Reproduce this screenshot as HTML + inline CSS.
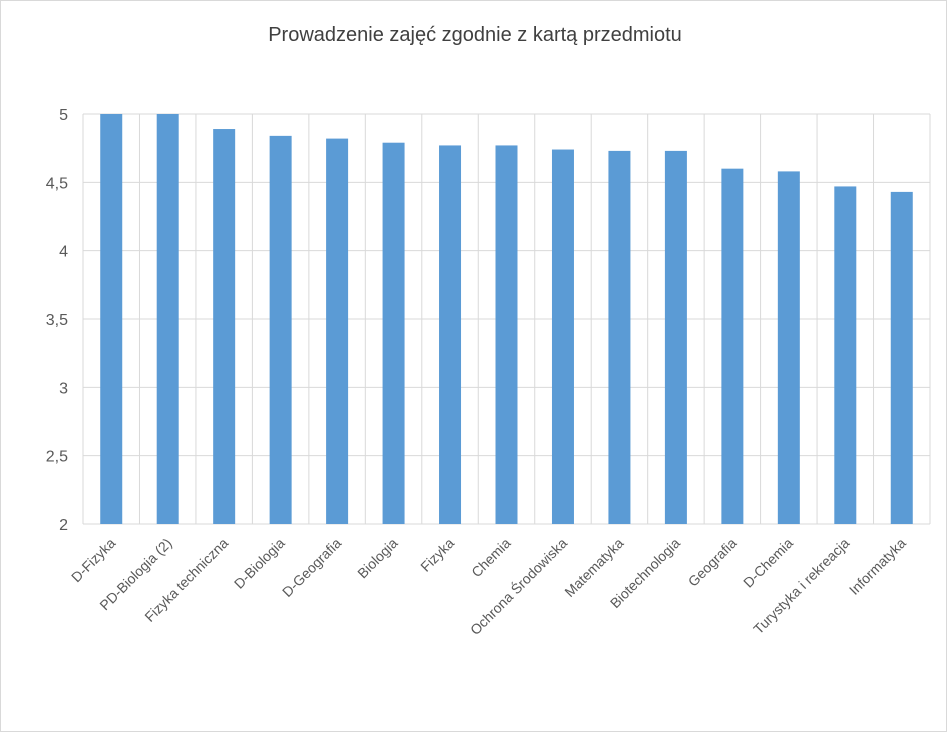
<!DOCTYPE html>
<html><head><meta charset="utf-8"><style>
body{margin:0;background:#fff;font-family:"Liberation Sans",sans-serif}
#c{position:absolute;left:0;top:0;width:945px;height:730px;border:1px solid #d9d9d9}
</style></head><body>
<div id="c">
<svg id="s" width="947" height="732">
<text x="474" y="40" text-anchor="middle" font-size="20" fill="#404040" font-family="Liberation Sans, sans-serif">Prowadzenie zajęć zgodnie z kartą przedmiotu</text>
</svg></div>
<script>
const categories=["D-Fizyka","PD-Biologia (2)","Fizyka techniczna","D-Biologia","D-Geografia","Biologia","Fizyka","Chemia","Ochrona Środowiska","Matematyka","Biotechnologia","Geografia","D-Chemia","Turystyka i rekreacja","Informatyka"];
const values=[5,5,4.89,4.84,4.82,4.79,4.77,4.77,4.74,4.73,4.73,4.60,4.58,4.47,4.43];
const yTicks=[2,2.5,3,3.5,4,4.5,5];
const yTickLabels=["2","2,5","3","3,5","4","4,5","5"];
const NS="http://www.w3.org/2000/svg";
const svg=document.getElementById('s');
const L=82,R=929,T=113,B=523,yMin=2,yMax=5;
const bw=(R-L)/categories.length;
const y=v=>B-(v-yMin)/(yMax-yMin)*(B-T);
const x=i=>L+i*bw;
function mk(t,a){const e=document.createElementNS(NS,t);for(const k in a)e.setAttribute(k,a[k]);svg.appendChild(e);return e;}
yTicks.forEach((v,i)=>{
 const l=mk('line',{x1:L,x2:R,y1:y(v),y2:y(v),stroke:'#d9d9d9'});
 
 
 const t=mk('text',{x:L-15,y:y(v)+6,'text-anchor':'end','font-size':16,fill:'#595959'});
 t.textContent=yTickLabels[i];
 
 
});
for(let i=0;i<=categories.length;i++){
 const l=mk('line',{x1:x(i),x2:x(i),y1:T,y2:B,stroke:'#d9d9d9'});
 
 
}
categories.forEach((c,i)=>{
 const cx=x(i)+bw/2;
 const r=mk('rect',{x:cx-11,y:y(values[i]),width:22,height:B-y(values[i]),fill:'#5b9bd5'});
 
 
 const t=mk('text',{x:cx+5,y:B+20,'text-anchor':'end','font-size':14,fill:'#595959',transform:`rotate(-45 ${cx+5} ${B+20})`});
 t.textContent=c;
 
 
});
</script>
</body></html>
